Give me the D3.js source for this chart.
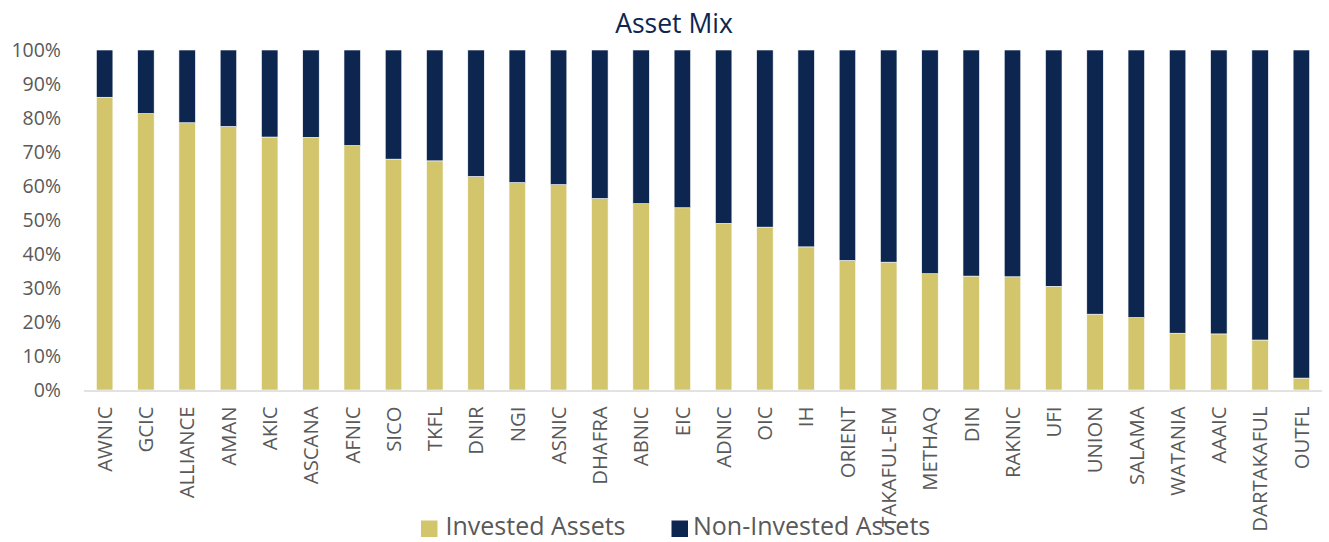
<!DOCTYPE html>
<html>
<head>
<meta charset="utf-8">
<script src="https://cdn.jsdelivr.net/npm/d3@7"></script>
<style>
  html, body { margin: 0; padding: 0; background: #fff; }
  svg { display: block; }
</style>
</head>
<body>
<div id="chart"></div>
<script>
const categories = ["AWNIC","GCIC","ALLIANCE","AMAN","AKIC","ASCANA","AFNIC","SICO","TKFL","DNIR",
  "NGI","ASNIC","DHAFRA","ABNIC","EIC","ADNIC","OIC","IH","ORIENT","TAKAFUL-EM",
  "METHAQ","DIN","RAKNIC","UFI","UNION","SALAMA","WATANIA","AAAIC","DARTAKAFUL","OUTFL"];
const investedAssets = [86.1,81.3,78.6,77.5,74.4,74.3,71.9,67.9,67.4,62.8,
  61.0,60.4,56.3,54.8,53.6,49.0,47.9,42.1,38.1,37.6,
  34.2,33.5,33.3,30.5,22.3,21.3,16.7,16.5,14.7,3.5];
const nonInvestedAssets = investedAssets.map(v => 100 - v);
const yTicks = [0,10,20,30,40,50,60,70,80,90,100];
const seriesNames = ["Invested Assets","Non-Invested Assets"];
const seriesColors = ["#D2C56C","#0C2650"];
const title = "Asset Mix";

const W = 1329, H = 542;
const svg = d3.select("#chart").append("svg").attr("width", W).attr("height", H);

const x = d3.scaleBand().domain(categories).range([84, 1322]).paddingInner(0.6).paddingOuter(0.3);
const y = d3.scaleLinear().domain([0, 100]).range([390, 50]);

// title
svg.append("text").attr("x", 674).attr("y", 33)
  .attr("text-anchor", "middle").attr("font-family", "'Open Sans', sans-serif")
  .attr("font-size", 26.5).attr("fill", "#0C2650").text(title);

// stacked data
const rows = categories.map((c, i) => ({cat: c, inv: investedAssets[i], non: nonInvestedAssets[i]}));
const stack = d3.stack().keys(["inv", "non"])(rows);

const g = svg.append("g");
g.selectAll("g.series").data(stack).join("g")
  .attr("class", "series")
  .attr("fill", (d, i) => seriesColors[i])
  .selectAll("rect").data(d => d).join("rect")
  .attr("x", d => x(d.data.cat))
  .attr("width", x.bandwidth())
  .attr("y", d => y(d[1]))
  .attr("height", d => y(d[0]) - y(d[1]))
  .attr("stroke", "#ffffff").attr("stroke-width", 0.6);

// x axis baseline
svg.append("line").attr("x1", 84).attr("x2", 1322).attr("y1", 391).attr("y2", 391)
  .attr("stroke", "#D9D9D9").attr("stroke-width", 1.5);

// y axis labels
const yAxis = d3.axisLeft(y).tickValues(yTicks).tickFormat(d => d + "%").tickSize(0).tickPadding(0);
const ya = svg.append("g").attr("transform", "translate(61,0)").call(yAxis);
ya.select(".domain").remove();
ya.selectAll("text").attr("font-family", "'Open Sans', sans-serif").attr("font-size", 19.5)
  .attr("fill", "#595959").attr("dy", "0.35em");

// legend geometry (used for label clipping)
const legX0 = 421, legX1 = 940;
const defs = svg.append("defs");
const cp = defs.append("clipPath").attr("id", "xlabclip");
cp.append("rect").attr("x", 0).attr("y", 0).attr("width", W).attr("height", 527);
cp.append("rect").attr("x", 0).attr("y", 0).attr("width", legX0).attr("height", H);
cp.append("rect").attr("x", legX1).attr("y", 0).attr("width", W - legX1).attr("height", H);

// x labels
const xl = svg.append("g").attr("clip-path", "url(#xlabclip)");
xl.selectAll("text").data(categories).join("text")
  .attr("transform", d => `translate(${x(d) + x.bandwidth() / 2},406.5) rotate(-90)`)
  .attr("text-anchor", "end").attr("dy", "0.36em")
  .attr("font-family", "'Open Sans', sans-serif").attr("font-size", 20.3)
  .attr("fill", "#595959").text(d => d);

// legend
const legItems = [{x: 421, tx: 445.5}, {x: 671.5, tx: 693}];
const lg = svg.append("g");
legItems.forEach((it, i) => {
  lg.append("rect").attr("x", it.x).attr("y", 520.5).attr("width", 16.5).attr("height", 16.5)
    .attr("fill", seriesColors[i]);
  lg.append("text").attr("x", it.tx).attr("y", 535)
    .attr("font-family", "'Open Sans', sans-serif").attr("font-size", 25)
    .attr("fill", "#595959").text(seriesNames[i]);
});
</script>
</body>
</html>
